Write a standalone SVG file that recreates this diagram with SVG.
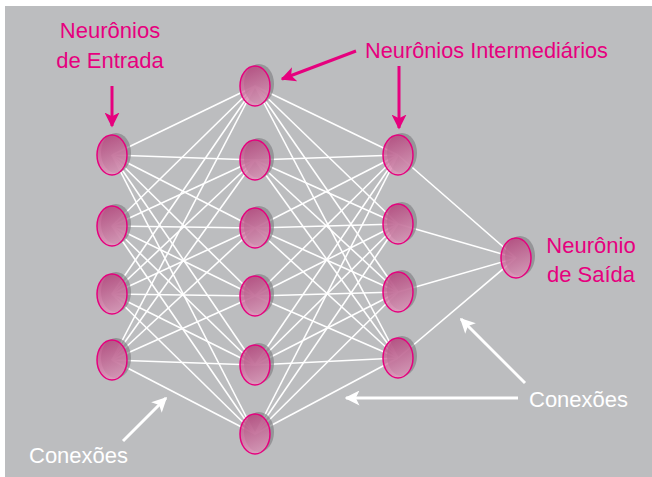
<svg xmlns="http://www.w3.org/2000/svg" width="652" height="477" viewBox="0 0 652 477">
<defs>
<linearGradient id="ng" x1="0.3" y1="0" x2="0.6" y2="1">
<stop offset="0" stop-color="#bb3f7c"/>
<stop offset="1" stop-color="#e398bd"/>
</linearGradient>
<marker id="pk" viewBox="0 0 10 10" refX="9" refY="5" markerWidth="5" markerHeight="5" orient="auto" markerUnits="strokeWidth"><path d="M0,0 L10,5 L0,10 L2.5,5 z" fill="#e6007e"/></marker>
<marker id="wh" viewBox="0 0 10 10" refX="9" refY="5" markerWidth="5" markerHeight="5" orient="auto" markerUnits="strokeWidth"><path d="M0,0 L10,5 L0,10 L2.5,5 z" fill="#ffffff"/></marker>
</defs>
<style>
.c line{stroke:#ffffff;stroke-width:1.6}
.sh{fill:#858587;opacity:0.7}
.nb{fill:url(#ng);fill-opacity:0.78;stroke:#e6007e;stroke-width:1.5}
.pt{fill:#e6007e;font-family:"Liberation Sans",Arial,sans-serif;font-size:22px}
.wt{fill:#ffffff;font-family:"Liberation Sans",Arial,sans-serif;font-size:22px}
.pa{stroke:#e6007e;stroke-width:3;fill:none;marker-end:url(#pk)}
.wa{stroke:#ffffff;stroke-width:3;fill:none;marker-end:url(#wh)}
</style>
<rect x="5" y="6" width="647" height="471" fill="#bcbdbf"/>
<g id="connectors" class="c">
<line x1="112" y1="155" x2="255" y2="86"/><line x1="112" y1="155" x2="255" y2="160"/><line x1="112" y1="155" x2="255" y2="228"/><line x1="112" y1="155" x2="255" y2="296"/><line x1="112" y1="155" x2="255" y2="365"/><line x1="112" y1="155" x2="255" y2="434"/>
<line x1="112" y1="226" x2="255" y2="86"/><line x1="112" y1="226" x2="255" y2="160"/><line x1="112" y1="226" x2="255" y2="228"/><line x1="112" y1="226" x2="255" y2="296"/><line x1="112" y1="226" x2="255" y2="365"/><line x1="112" y1="226" x2="255" y2="434"/>
<line x1="112" y1="294" x2="255" y2="86"/><line x1="112" y1="294" x2="255" y2="160"/><line x1="112" y1="294" x2="255" y2="228"/><line x1="112" y1="294" x2="255" y2="296"/><line x1="112" y1="294" x2="255" y2="365"/><line x1="112" y1="294" x2="255" y2="434"/>
<line x1="112" y1="360" x2="255" y2="86"/><line x1="112" y1="360" x2="255" y2="160"/><line x1="112" y1="360" x2="255" y2="228"/><line x1="112" y1="360" x2="255" y2="296"/><line x1="112" y1="360" x2="255" y2="365"/><line x1="112" y1="360" x2="255" y2="434"/>
<line x1="255" y1="86" x2="398" y2="155"/><line x1="255" y1="86" x2="398" y2="224"/><line x1="255" y1="86" x2="398" y2="292"/><line x1="255" y1="86" x2="398" y2="358"/>
<line x1="255" y1="160" x2="398" y2="155"/><line x1="255" y1="160" x2="398" y2="224"/><line x1="255" y1="160" x2="398" y2="292"/><line x1="255" y1="160" x2="398" y2="358"/>
<line x1="255" y1="228" x2="398" y2="155"/><line x1="255" y1="228" x2="398" y2="224"/><line x1="255" y1="228" x2="398" y2="292"/><line x1="255" y1="228" x2="398" y2="358"/>
<line x1="255" y1="296" x2="398" y2="155"/><line x1="255" y1="296" x2="398" y2="224"/><line x1="255" y1="296" x2="398" y2="292"/><line x1="255" y1="296" x2="398" y2="358"/>
<line x1="255" y1="365" x2="398" y2="155"/><line x1="255" y1="365" x2="398" y2="224"/><line x1="255" y1="365" x2="398" y2="292"/><line x1="255" y1="365" x2="398" y2="358"/>
<line x1="255" y1="434" x2="398" y2="155"/><line x1="255" y1="434" x2="398" y2="224"/><line x1="255" y1="434" x2="398" y2="292"/><line x1="255" y1="434" x2="398" y2="358"/>
<line x1="398" y1="155" x2="516" y2="258"/><line x1="398" y1="224" x2="516" y2="258"/><line x1="398" y1="292" x2="516" y2="258"/><line x1="398" y1="358" x2="516" y2="258"/>
</g>
<g id="in1"><ellipse class="sh" cx="116" cy="153" rx="15" ry="20"/><ellipse class="nb" cx="112" cy="155" rx="15" ry="20"/></g>
<g id="in2"><ellipse class="sh" cx="116" cy="224" rx="15" ry="20"/><ellipse class="nb" cx="112" cy="226" rx="15" ry="20"/></g>
<g id="in3"><ellipse class="sh" cx="116" cy="292" rx="15" ry="20"/><ellipse class="nb" cx="112" cy="294" rx="15" ry="20"/></g>
<g id="in4"><ellipse class="sh" cx="116" cy="358" rx="15" ry="20"/><ellipse class="nb" cx="112" cy="360" rx="15" ry="20"/></g>
<g id="h1"><ellipse class="sh" cx="259" cy="84" rx="15" ry="20"/><ellipse class="nb" cx="255" cy="86" rx="15" ry="20"/></g>
<g id="h2"><ellipse class="sh" cx="259" cy="158" rx="15" ry="20"/><ellipse class="nb" cx="255" cy="160" rx="15" ry="20"/></g>
<g id="h3"><ellipse class="sh" cx="259" cy="226" rx="15" ry="20"/><ellipse class="nb" cx="255" cy="228" rx="15" ry="20"/></g>
<g id="h4"><ellipse class="sh" cx="259" cy="294" rx="15" ry="20"/><ellipse class="nb" cx="255" cy="296" rx="15" ry="20"/></g>
<g id="h5"><ellipse class="sh" cx="259" cy="363" rx="15" ry="20"/><ellipse class="nb" cx="255" cy="365" rx="15" ry="20"/></g>
<g id="h6"><ellipse class="sh" cx="259" cy="432" rx="15" ry="20"/><ellipse class="nb" cx="255" cy="434" rx="15" ry="20"/></g>
<g id="m1"><ellipse class="sh" cx="402" cy="153" rx="15" ry="20"/><ellipse class="nb" cx="398" cy="155" rx="15" ry="20"/></g>
<g id="m2"><ellipse class="sh" cx="402" cy="222" rx="15" ry="20"/><ellipse class="nb" cx="398" cy="224" rx="15" ry="20"/></g>
<g id="m3"><ellipse class="sh" cx="402" cy="290" rx="15" ry="20"/><ellipse class="nb" cx="398" cy="292" rx="15" ry="20"/></g>
<g id="m4"><ellipse class="sh" cx="402" cy="356" rx="15" ry="20"/><ellipse class="nb" cx="398" cy="358" rx="15" ry="20"/></g>
<g id="out"><ellipse class="sh" cx="520" cy="256" rx="15" ry="20"/><ellipse class="nb" cx="516" cy="258" rx="15" ry="20"/></g>
<g id="label-entrada">
<text class="pt" x="110" y="38" text-anchor="middle">Neurônios</text>
<text class="pt" x="110" y="68" text-anchor="middle">de Entrada</text>
<line class="pa" x1="112" y1="86" x2="112" y2="126"/>
</g>
<g id="label-intermediarios">
<text class="pt" x="365" y="58" textLength="243" lengthAdjust="spacingAndGlyphs">Neurônios Intermediários</text>
<line class="pa" x1="356" y1="51" x2="282" y2="79"/>
<line class="pa" x1="399" y1="66" x2="399" y2="128"/>
</g>
<g id="label-saida">
<text class="pt" x="591" y="253" text-anchor="middle">Neurônio</text>
<text class="pt" x="591" y="282" text-anchor="middle">de Saída</text>
</g>
<g id="label-conexoes-left">
<text class="wt" x="29" y="463">Conexões</text>
<line class="wa" x1="123" y1="441" x2="166" y2="398"/>
</g>
<g id="label-conexoes-right">
<text class="wt" x="529" y="407">Conexões</text>
<line class="wa" x1="525" y1="383" x2="461" y2="319"/>
<line class="wa" x1="518" y1="398" x2="346" y2="398"/>
</g>
</svg>
